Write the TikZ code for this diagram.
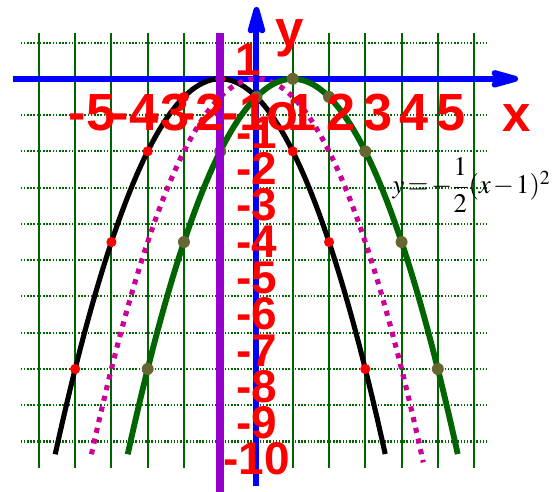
\documentclass[tikz,border=0pt]{standalone}
\usepackage{amsmath}
\usepackage{mathptmx}
\usepackage[no-math]{fontspec}
\setmainfont{Liberation Serif}
\setsansfont{Liberation Sans}
\usetikzlibrary{arrows.meta}

\definecolor{axisblue}{RGB}{0,0,255}
\definecolor{gridgreen}{RGB}{0,100,0}
\definecolor{curvegreen}{RGB}{0,100,0}
\definecolor{dotolive}{RGB}{102,102,51}
\definecolor{symviolet}{RGB}{150,0,204}
\definecolor{dotmagenta}{RGB}{204,0,153}

\tikzset{
  xticklab/.style={text=red, inner sep=0pt, anchor=base west,
    font=\sffamily\bfseries\fontsize{41}{41}\selectfont},
  yticklab/.style={text=red, inner sep=0pt, anchor=base,
    font=\sffamily\bfseries\fontsize{36}{36}\selectfont},
  axisname/.style={text=red, inner sep=0pt, anchor=base,
    font=\sffamily\bfseries\fontsize{40}{40}\selectfont},
  gridline/.style={gridgreen, line width=1.5pt},
  gridhline/.style={gridgreen, line width=1.6pt, dash pattern=on 1.2pt off 1.3pt},
  axisline/.style={axisblue, line width=4.7pt}
}

\begin{document}
\begin{tikzpicture}[>={Stealth[length=31pt,width=17pt,inset=7pt,round]}, line join=round]
    % Fixing the frame of the picture
    \useasboundingbox (-7.072,-11.392) rectangle (8.313,2.173);

    % Vertical grid lines (solid green)
    \foreach \gx in {-6,...,6}
        \draw[gridline] (\gx,1.27) -- (\gx,-10.74);

    % Horizontal grid lines (dotted green)
    \foreach \gy in {1,-1,-2,...,-10}
        \draw[gridhline] (-6.5,\gy) -- (6.34,\gy);

    % Axes with their arrow tips
    \draw[axisline, ->] (-6.72,0) -- (7.21,0);
    \draw[axisline, ->] (0,-11.23) -- (0,1.98);

    % The three parabolas
    \draw[black, line width=4pt, domain=-5.55:3.55, samples=90]
        plot (\x, {-0.5*(\x+1)*(\x+1)});
    \draw[dotmagenta, line width=4pt, dash pattern=on 4pt off 4.6pt, domain=-4.55:4.6, samples=90]
        plot (\x, {-0.5*(\x)*(\x)});
    \draw[curvegreen, line width=4.6pt, domain=-3.55:5.55, samples=90]
        plot (\x, {-0.5*(\x-1)*(\x-1)});

    % Points on the black curve
    \foreach \px/\py in {-5/-8,-4/-4.5,-3/-2,-2/-0.5,-1/0,0/-0.5,1/-2,2/-4.5,3/-8}
        \fill[red] (\px,\py) circle (0.14);

    % Points on the green curve
    \foreach \px/\py in {-3/-8,-2/-4.5,-1/-2,0/-0.5,1/0,2/-0.5,3/-2,4/-4.5,5/-8}
        \fill[dotolive] (\px,\py) circle (0.165);

    % Axis of symmetry x = -1
    \draw[symviolet, line width=6.3pt] (-1,1.27) -- (-1,-11.45);

    % Labels on the x axis
    \foreach \lx/\lt [count=\i] in {-5.18/-5,-4.0/-4,-3.13/-3,-2.17/-2,-0.96/-1,0.28/o,0.85/1,1.93/2,2.95/3,3.94/4,4.96/5}
        \node[xticklab] (xlab\i) at (\lx,-1.43) {\lt};

    % Labels on the y axis
    \node[yticklab] (ylab0) at (-0.22,0.08) {1};
    \foreach \k in {1,...,10}
        \node[yticklab] (ylab\k) at (0,-\k-0.92) {-\k};

    % Names of the axes
    \node[axisname] (xname) at (7.18,-1.46) {x};
    \node[axisname] (yname) at (0.92,0.88) {y};

    % Equation of the green curve (tight spacing)
    \node[font=\fontsize{21}{21}\selectfont] (eqn) at (5.93,-2.93)
        {$\thickmuskip=2mu \medmuskip=1.5mu y=-\dfrac{1}{2}(x-1)^2$};
\end{tikzpicture}
\end{document}
